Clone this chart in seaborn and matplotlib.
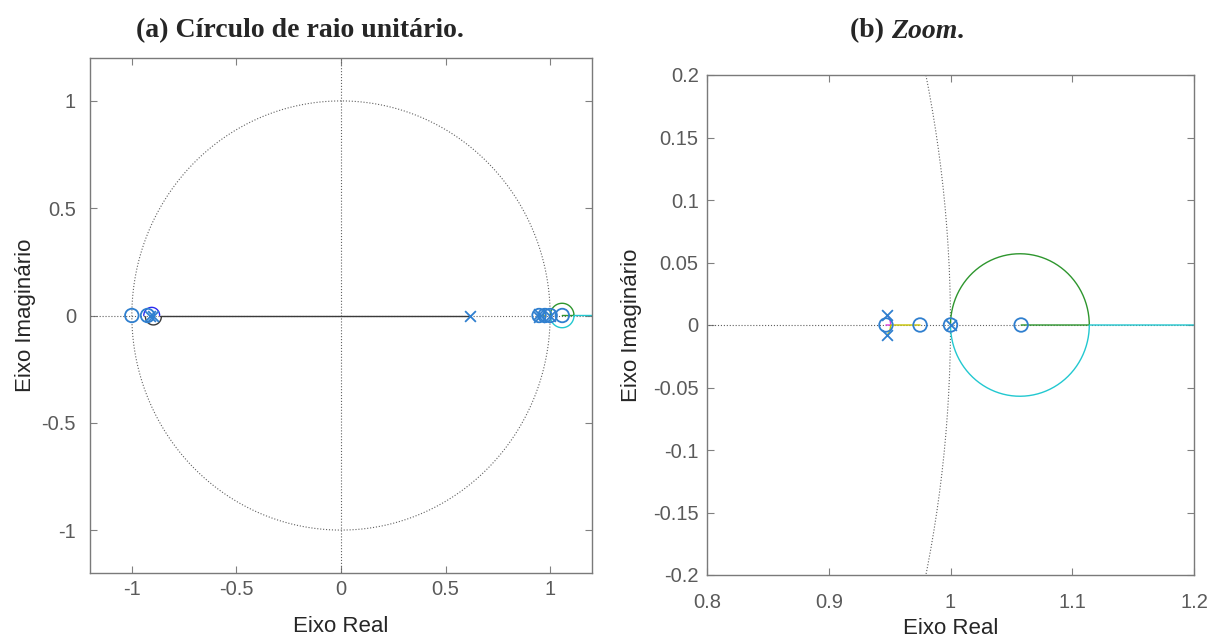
import numpy as np
import pandas as pd
import matplotlib
matplotlib.use("Agg")
import matplotlib.pyplot as plt
import seaborn as sns

# ---------------- data ----------------
zeros_re = [-1.0, -0.925, 0.947, 0.975, 1.0, 1.058]
zeros_im = [0.0, 0.0, 0.0, 0.0, 0.0, 0.0]
poles_re = [-0.912, -0.898, 0.617, 0.948, 0.948, 1.0]
poles_im = [0.0, 0.0, 0.0, 0.008, -0.008, 0.0]

# root-locus branches (real-axis segments / break points)
black_x = [-0.867, 0.617]
black_y = [0.0, 0.0]
pink_x = [0.948, 0.9495, 0.9505, 0.951, 0.947]
pink_y = [0.008, 0.006, 0.003, 0.0, 0.0]
yellow_x = [0.948, 0.9495, 0.9505, 0.951, 0.975]
yellow_y = [-0.008, -0.006, -0.003, 0.0, 0.0]
green_center, green_radius = 1.057, 0.057
green_tail_x = [1.114, 1.058]
cyan_tail_x = [1.114, 1.35]
neg_center, neg_radius = -0.905, 0.038

left_ticks_x = [-1, -0.5, 0, 0.5, 1]
left_ticks_y = [-1, -0.5, 0, 0.5, 1]
right_ticks_x = [0.8, 0.9, 1.0, 1.1, 1.2]
right_ticks_y = [-0.2, -0.15, -0.1, -0.05, 0, 0.05, 0.1, 0.15, 0.2]

# ---------------- style ----------------
sns.set_theme(style="white")
plt.rcParams['font.family'] = ['Liberation Sans', 'DejaVu Sans']

C_MARK = '#2f7fcf'
C_GREEN = '#2e962e'
C_CYAN = '#22c8d0'
C_PINK = '#e03ce0'
C_YELLOW = '#c8c400'
C_DARK = '#3a3a3a'
C_BLUE = '#2a2af0'
C_GRID = '#606060'

fig = plt.figure(figsize=(12.22, 6.39), dpi=100)
W, H = 1222, 639
axL = fig.add_axes([90 / W, (H - 573) / H, (592 - 90) / W, (573 - 58) / H])
axR = fig.add_axes([707 / W, (H - 575) / H, (1194 - 707) / W, (575 - 75) / H])


def arc(cx, r, t0, t1, n=200):
    t = np.linspace(t0, t1, n)
    return cx + r * np.cos(t), r * np.sin(t)


def line(ax, x, y, color, lw=1.0, ls='-', z=2):
    df = pd.DataFrame({'x': x, 'y': y})
    sns.lineplot(data=df, x='x', y='y', sort=False, estimator=None, ax=ax,
                 color=color, lw=lw, linestyle=ls, zorder=z)


for ax in (axL, axR):
    # unit circle and axes (dotted)
    ux, uy = arc(0.0, 1.0, 0, 2 * np.pi, 800)
    line(ax, ux, uy, C_GRID, lw=0.8, ls=':', z=1)
    line(ax, [-2, 2], [0, 0], C_GRID, lw=0.8, ls=':', z=1)
    line(ax, [0, 0], [-2, 2], C_GRID, lw=0.8, ls=':', z=1)

    # branches
    line(ax, black_x, black_y, C_DARK, lw=1.0)
    line(ax, pink_x, pink_y, C_PINK, lw=1.0)
    line(ax, yellow_x, yellow_y, C_YELLOW, lw=1.0)
    gx, gy = arc(green_center, green_radius, np.pi, 0)
    line(ax, list(gx) + green_tail_x, list(gy) + [0, 0], C_GREEN, lw=1.0)
    cx, cy = arc(green_center, green_radius, -np.pi, 0)
    line(ax, list(cx) + cyan_tail_x, list(cy) + [0, 0], C_CYAN, lw=1.0)
    bx, by = arc(neg_center, neg_radius, np.pi, 0)
    line(ax, bx, by, C_BLUE, lw=1.0)
    kx, ky = arc(neg_center + 0.008, neg_radius, -np.pi, 0)
    line(ax, kx, np.array(ky) - 0.006, C_DARK, lw=1.0)

    # zeros and poles
    sns.scatterplot(x=zeros_re, y=zeros_im, ax=ax, marker='o', s=95,
                    facecolors='none', edgecolor=C_MARK, linewidth=1.3, zorder=5)
    sns.scatterplot(x=poles_re, y=poles_im, ax=ax, marker='x', s=60,
                    color=C_MARK, linewidth=1.3, zorder=5)

axL.set_xlim(-1.2, 1.2)
axL.set_ylim(-1.2, 1.2)
axL.set_xticks(left_ticks_x)
axL.set_xticklabels(['-1', '-0.5', '0', '0.5', '1'])
axL.set_yticks(left_ticks_y)
axL.set_yticklabels(['-1', '-0.5', '0', '0.5', '1'])

axR.set_xlim(0.8, 1.2)
axR.set_ylim(-0.2, 0.2)
axR.set_xticks(right_ticks_x)
axR.set_xticklabels(['0.8', '0.9', '1', '1.1', '1.2'])
axR.set_yticks(right_ticks_y)
axR.set_yticklabels(['-0.2', '-0.15', '-0.1', '-0.05', '0', '0.05', '0.1', '0.15', '0.2'])

for ax in (axL, axR):
    ax.tick_params(direction='in', length=5, width=0.8, colors='#808080',
                   labelcolor='#5a5a5a', labelsize=14.5, top=True, right=True,
                   bottom=True, left=True)
    for s in ax.spines.values():
        s.set_color('#7a7a7a')
        s.set_linewidth(1.0)

axL.tick_params(axis='x', pad=5)
axL.tick_params(axis='y', pad=10)
axR.tick_params(axis='x', pad=13)
axR.tick_params(axis='y', pad=6)

axL.set_xlabel('Eixo Real', fontsize=16, color='#262626', labelpad=12)
axL.set_ylabel('Eixo Imaginário', fontsize=16, color='#262626', labelpad=4)
axR.set_xlabel('Eixo Real', fontsize=16, color='#262626', labelpad=4)
axR.set_ylabel('Eixo Imaginário', fontsize=16, color='#262626', labelpad=8)

# titles
serif = ['Liberation Serif', 'DejaVu Serif']
TS = 20
fig.text(300 / W, 1 - 31 / H, '(a) Círculo de raio unitário.', ha='center', va='center',
         fontsize=TS, fontweight='bold', family=serif)

fig.canvas.draw()
r = fig.canvas.get_renderer()
parts = [('(b) ', 'normal'), ('Zoom', 'italic'), ('.', 'normal')]
texts = []
for s, st in parts:
    t = fig.text(0, 1 - 31 / H, s, ha='left', va='center', fontsize=TS,
                 fontweight='bold', fontstyle=st, family=serif)
    texts.append(t)
fig.canvas.draw()
widths = [t.get_window_extent(r).width for t in texts]
total = sum(widths)
x0 = 907 - total / 2
for t, w in zip(texts, widths):
    t.set_x(x0 / W)
    x0 += w

fig.savefig('out.png', dpi=100)
